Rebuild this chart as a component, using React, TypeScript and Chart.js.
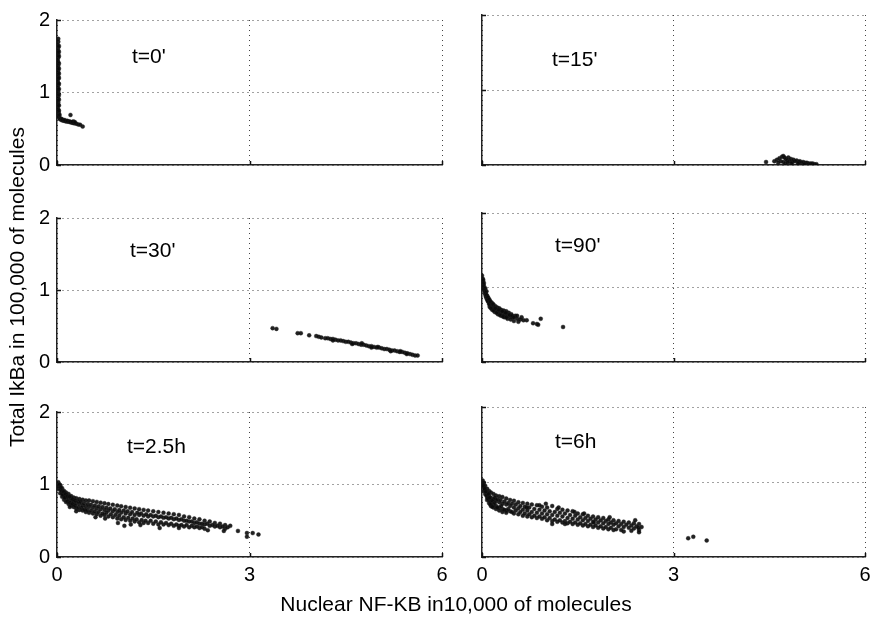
import React, { useEffect, useRef } from "react";
import { Chart, registerables } from "chart.js";

Chart.register(...registerables);

// ---------- text ----------
const panelLabels = ["t=0'", "t=15'", "t=30'", "t=90'", "t=2.5h", "t=6h"];
const xTickValues = [0, 3, 6];
const yTickValues = [0, 1, 2];
const xAxisTitle = "Nuclear NF-KB in10,000 of molecules";
const yAxisTitle = "Total IkBa in 100,000 of molecules";

// ---------- data: [nuclear NF-kB (x 10,000), total IkBa (x 100,000)] ----------
const t0Points: [number, number][] = [
  [0.02, 1.74], [0.02, 1.7], [0.01, 1.66], [0.02, 1.62], [0.02, 1.58], [0.01, 1.55], [0.02, 1.52],
  [0.02, 1.48], [0.01, 1.45], [0.02, 1.42], [0.03, 1.4], [0.02, 1.37], [0.01, 1.34], [0.02, 1.31],
  [0.02, 1.28], [0.01, 1.25], [0.02, 1.22], [0.02, 1.19], [0.01, 1.16], [0.02, 1.13], [0.02, 1.1],
  [0.01, 1.07], [0.02, 1.04], [0.02, 1.01], [0.01, 0.98], [0.02, 0.95], [0.02, 0.92], [0.01, 0.89],
  [0.02, 0.86], [0.02, 0.83], [0.01, 0.8], [0.02, 0.77], [0.02, 0.74], [0.03, 0.71], [0.02, 0.68],
  [0.03, 0.66], [0.04, 0.64], [0.05, 0.63], [0.07, 0.62], [0.09, 0.615], [0.11, 0.61], [0.13, 0.605],
  [0.15, 0.6], [0.17, 0.6], [0.19, 0.595], [0.21, 0.59], [0.23, 0.585], [0.25, 0.58], [0.27, 0.575],
  [0.3, 0.57], [0.33, 0.56], [0.21, 0.69], [0.4, 0.53], [0.26, 0.6], [0.36, 0.555],
  [0.03, 1.64], [0.03, 1.56], [0.03, 1.5], [0.03, 1.33], [0.03, 1.26], [0.03, 1.2], [0.03, 1.12],
  [0.03, 1.05], [0.03, 0.97], [0.03, 0.9], [0.03, 0.82], [0.03, 0.75], [0.04, 0.69], [0.06, 0.64],
  [0.08, 0.63], [0.12, 0.62], [0.16, 0.61], [0.2, 0.6], [0.24, 0.595], [0.28, 0.59],
];

const t15Points: [number, number][] = [
  [4.45, 0.04], [4.58, 0.05], [4.62, 0.07], [4.66, 0.09], [4.7, 0.11], [4.72, 0.12], [4.74, 0.1],
  [4.68, 0.05], [4.72, 0.04], [4.76, 0.08], [4.78, 0.06], [4.8, 0.1], [4.82, 0.05], [4.84, 0.08],
  [4.86, 0.04], [4.88, 0.07], [4.9, 0.05], [4.93, 0.06], [4.96, 0.04], [4.98, 0.05], [5.0, 0.03],
  [5.03, 0.04], [5.06, 0.03], [5.09, 0.03], [5.12, 0.02], [5.15, 0.02], [5.18, 0.02], [5.21, 0.01],
  [5.24, 0.01], [4.75, 0.02], [4.85, 0.02], [4.95, 0.02], [5.05, 0.01], [4.64, 0.03], [4.79, 0.03],
];

const t30Points: [number, number][] = [
  [3.36, 0.47], [3.42, 0.46], [3.75, 0.4], [3.8, 0.4], [3.93, 0.37], [4.04, 0.36], [4.08, 0.35],
  [4.12, 0.34], [4.18, 0.33], [4.22, 0.33], [4.26, 0.32], [4.3, 0.32], [4.34, 0.31], [4.38, 0.3],
  [4.42, 0.3], [4.46, 0.29], [4.5, 0.28], [4.54, 0.28], [4.58, 0.27], [4.62, 0.26], [4.66, 0.26],
  [4.7, 0.25], [4.74, 0.24], [4.78, 0.24], [4.82, 0.23], [4.86, 0.22], [4.9, 0.22], [4.94, 0.21],
  [4.98, 0.2], [5.02, 0.2], [5.06, 0.19], [5.1, 0.18], [5.14, 0.18], [5.18, 0.17], [5.22, 0.16],
  [5.26, 0.16], [5.3, 0.15], [5.34, 0.14], [5.38, 0.14], [5.42, 0.13], [5.46, 0.12], [5.5, 0.11],
  [5.54, 0.1], [5.58, 0.09], [5.62, 0.09], [4.3, 0.3], [4.6, 0.25], [4.9, 0.2], [5.2, 0.15],
  [5.45, 0.11], [5.0, 0.21], [4.75, 0.26], [5.35, 0.15],
];

const t90Points: [number, number][] = [
  [0.0, 1.16], [0.01, 1.12], [0.01, 1.08], [0.02, 1.04], [0.02, 1.0], [0.03, 0.97], [0.04, 0.94],
  [0.05, 0.91], [0.06, 0.88], [0.07, 0.86], [0.08, 0.84], [0.1, 0.81], [0.12, 0.78], [0.14, 0.76],
  [0.16, 0.74], [0.19, 0.72], [0.22, 0.7], [0.25, 0.68], [0.28, 0.67], [0.32, 0.65], [0.36, 0.64],
  [0.4, 0.63], [0.44, 0.61], [0.48, 0.6], [0.03, 1.02], [0.04, 0.98], [0.06, 0.93], [0.08, 0.89],
  [0.1, 0.86], [0.12, 0.83], [0.15, 0.8], [0.18, 0.77], [0.21, 0.75], [0.24, 0.73], [0.27, 0.72],
  [0.3, 0.7], [0.34, 0.69], [0.38, 0.68], [0.42, 0.66], [0.46, 0.64], [0.12, 0.74], [0.16, 0.7],
  [0.2, 0.67], [0.25, 0.64], [0.3, 0.62], [0.35, 0.6], [0.4, 0.58], [0.45, 0.57], [0.5, 0.55],
  [0.52, 0.62], [0.57, 0.54], [0.62, 0.6], [0.7, 0.56], [0.8, 0.52], [0.86, 0.51], [0.88, 0.5],
  [0.92, 0.58], [1.27, 0.47], [0.55, 0.58],
  [0.02, 1.1], [0.03, 1.06], [0.05, 0.99], [0.07, 0.95], [0.07, 0.9], [0.09, 0.87], [0.09, 0.82],
  [0.11, 0.84], [0.11, 0.78], [0.13, 0.81], [0.14, 0.72], [0.17, 0.78], [0.18, 0.69], [0.21, 0.72],
  [0.23, 0.66], [0.26, 0.7], [0.28, 0.63], [0.32, 0.68], [0.33, 0.61], [0.37, 0.66], [0.38, 0.6],
  [0.43, 0.63], [0.47, 0.62], [0.5, 0.6], [0.55, 0.62], [0.6, 0.57], [0.65, 0.56],
];

const t150Points: [number, number][] = [
  [0.02, 1.03], [0.02, 0.98], [0.02, 0.94], [0.05, 0.99], [0.05, 0.93], [0.05, 0.88],
  [0.08, 0.95], [0.08, 0.88], [0.08, 0.83], [0.11, 0.91], [0.11, 0.85], [0.11, 0.79],
  [0.14, 0.89], [0.14, 0.82], [0.14, 0.76], [0.18, 0.87], [0.18, 0.8], [0.18, 0.73],
  [0.22, 0.84], [0.22, 0.78], [0.22, 0.71], [0.26, 0.82], [0.26, 0.76], [0.26, 0.69],
  [0.3, 0.81], [0.3, 0.74], [0.3, 0.67], [0.35, 0.8], [0.35, 0.73], [0.35, 0.65],
  [0.4, 0.79], [0.4, 0.71], [0.4, 0.64], [0.45, 0.78], [0.45, 0.7], [0.45, 0.62],
  [0.5, 0.78], [0.5, 0.69], [0.5, 0.61], [0.56, 0.77], [0.56, 0.68], [0.56, 0.6],
  [0.62, 0.76], [0.62, 0.67], [0.62, 0.59], [0.68, 0.75], [0.68, 0.66], [0.68, 0.57],
  [0.74, 0.74], [0.74, 0.65], [0.74, 0.58], [0.8, 0.73], [0.8, 0.64], [0.8, 0.56],
  [0.87, 0.72], [0.87, 0.63], [0.87, 0.55], [0.94, 0.71], [0.94, 0.62], [0.94, 0.53],
  [1.0, 0.7], [1.0, 0.61], [1.0, 0.52], [1.07, 0.69], [1.07, 0.6], [1.07, 0.51],
  [1.14, 0.68], [1.14, 0.59], [1.14, 0.5], [1.21, 0.67], [1.21, 0.58], [1.21, 0.49],
  [1.28, 0.66], [1.28, 0.58], [1.28, 0.48], [1.35, 0.65], [1.35, 0.57], [1.35, 0.47],
  [1.42, 0.64], [1.42, 0.56], [1.42, 0.47], [1.5, 0.63], [1.5, 0.56], [1.5, 0.46],
  [1.58, 0.62], [1.58, 0.55], [1.58, 0.45], [1.66, 0.61], [1.66, 0.54], [1.66, 0.45],
  [1.74, 0.6], [1.74, 0.53], [1.74, 0.44], [1.82, 0.59], [1.82, 0.52], [1.82, 0.43],
  [1.9, 0.58], [1.9, 0.51], [1.9, 0.43], [1.98, 0.56], [1.98, 0.5], [1.98, 0.42],
  [2.06, 0.55], [2.06, 0.49], [2.06, 0.41], [2.14, 0.53], [2.14, 0.47], [2.14, 0.41],
  [2.22, 0.52], [2.22, 0.46], [2.22, 0.4], [2.3, 0.5], [2.3, 0.45], [2.3, 0.39],
  [2.38, 0.49], [2.38, 0.43], [2.46, 0.47], [2.46, 0.42], [2.54, 0.46], [2.54, 0.41],
  [2.62, 0.44], [2.62, 0.39], [2.7, 0.43], [2.82, 0.36], [2.96, 0.33], [3.14, 0.31],
  [2.96, 0.28], [3.05, 0.33], [1.05, 0.43], [1.6, 0.4], [1.15, 0.45], [0.95, 0.47],
  [0.04, 1.0], [0.06, 0.96], [0.07, 0.91], [0.09, 0.86], [0.1, 0.9], [0.12, 0.82], [0.13, 0.87],
  [0.16, 0.84], [0.16, 0.77], [0.2, 0.83], [0.2, 0.75], [0.24, 0.8], [0.24, 0.73], [0.28, 0.78],
  [0.28, 0.71], [0.33, 0.77], [0.33, 0.69], [0.37, 0.76], [0.38, 0.68], [0.42, 0.74], [0.43, 0.66],
  [0.48, 0.73], [0.47, 0.65], [0.53, 0.72], [0.53, 0.64], [0.59, 0.71], [0.59, 0.63], [0.65, 0.7],
  [0.65, 0.62], [0.71, 0.69], [0.71, 0.6], [0.77, 0.68], [0.77, 0.61], [0.83, 0.67], [0.84, 0.59],
  [0.9, 0.66], [0.91, 0.58], [0.97, 0.65], [0.97, 0.57], [1.04, 0.64], [1.04, 0.55], [1.1, 0.63],
  [1.11, 0.54], [1.17, 0.62], [1.18, 0.53], [1.25, 0.61], [1.24, 0.52], [1.31, 0.6], [1.32, 0.51],
  [1.39, 0.59], [1.38, 0.5], [1.46, 0.58], [1.46, 0.5], [1.54, 0.57], [1.54, 0.49], [1.62, 0.56],
  [1.62, 0.48], [1.7, 0.55], [1.7, 0.47], [1.78, 0.54], [1.78, 0.46], [1.86, 0.53], [1.86, 0.45],
  [1.94, 0.52], [1.94, 0.44], [2.02, 0.5], [2.02, 0.44], [2.1, 0.49], [2.1, 0.43], [2.18, 0.48],
  [2.18, 0.42], [2.26, 0.46], [2.26, 0.41], [2.34, 0.46], [2.42, 0.44], [2.5, 0.43], [2.58, 0.42],
  [2.66, 0.41], [0.6, 0.55], [0.75, 0.53], [1.3, 0.44], [1.9, 0.4], [2.35, 0.37], [2.6, 0.36],
  [0.3, 0.63], [0.2, 0.69],
];

const t360Points: [number, number][] = [
  [0.01, 1.02], [0.01, 0.97], [0.03, 0.99], [0.03, 0.93], [0.03, 0.88], [0.05, 0.95], [0.05, 0.89],
  [0.05, 0.84], [0.08, 0.91], [0.08, 0.85], [0.08, 0.8], [0.08, 0.76], [0.11, 0.88], [0.11, 0.82],
  [0.11, 0.76], [0.11, 0.72], [0.14, 0.86], [0.14, 0.79], [0.14, 0.73], [0.14, 0.68], [0.18, 0.84],
  [0.18, 0.77], [0.18, 0.7], [0.18, 0.66], [0.22, 0.82], [0.22, 0.75], [0.22, 0.68], [0.22, 0.64],
  [0.27, 0.81], [0.27, 0.73], [0.27, 0.66], [0.27, 0.62], [0.32, 0.8], [0.32, 0.71], [0.32, 0.64],
  [0.32, 0.6], [0.38, 0.78], [0.38, 0.7], [0.38, 0.62], [0.38, 0.59], [0.44, 0.76], [0.44, 0.68],
  [0.44, 0.61], [0.5, 0.75], [0.5, 0.66], [0.5, 0.58], [0.57, 0.73], [0.57, 0.65], [0.57, 0.57],
  [0.64, 0.72], [0.64, 0.63], [0.64, 0.55], [0.71, 0.71], [0.71, 0.62], [0.71, 0.54], [0.78, 0.7],
  [0.78, 0.6], [0.78, 0.53], [0.86, 0.69], [0.86, 0.59], [0.86, 0.52], [0.94, 0.67], [0.94, 0.58],
  [0.94, 0.51], [1.02, 0.66], [1.02, 0.57], [1.02, 0.49], [1.1, 0.68], [1.1, 0.56], [1.1, 0.48],
  [1.18, 0.64], [1.18, 0.55], [1.18, 0.47], [1.26, 0.63], [1.26, 0.54], [1.26, 0.46], [1.34, 0.62],
  [1.34, 0.52], [1.34, 0.45], [1.42, 0.61], [1.42, 0.51], [1.42, 0.44], [1.5, 0.58], [1.5, 0.5],
  [1.5, 0.43], [1.58, 0.57], [1.58, 0.49], [1.58, 0.42], [1.66, 0.55], [1.66, 0.48], [1.66, 0.41],
  [1.74, 0.54], [1.74, 0.47], [1.74, 0.4], [1.82, 0.53], [1.82, 0.46], [1.82, 0.39], [1.9, 0.52],
  [1.9, 0.45], [1.9, 0.38], [1.98, 0.5], [1.98, 0.44], [1.98, 0.37], [2.06, 0.49], [2.06, 0.43],
  [2.06, 0.36], [2.14, 0.48], [2.14, 0.41], [2.22, 0.47], [2.22, 0.4], [2.22, 0.34], [2.3, 0.46],
  [2.3, 0.39], [2.38, 0.45], [2.38, 0.38], [2.46, 0.44], [2.46, 0.36], [2.46, 0.33], [2.5, 0.4],
  [1.0, 0.71], [1.1, 0.44], [3.23, 0.25], [3.31, 0.27], [3.52, 0.22],
  [0.02, 0.95], [0.04, 0.91], [0.06, 0.87], [0.07, 0.82], [0.09, 0.78], [0.1, 0.84], [0.12, 0.79],
  [0.13, 0.7], [0.16, 0.75], [0.16, 0.67], [0.2, 0.79], [0.2, 0.72], [0.24, 0.77], [0.24, 0.66],
  [0.29, 0.76], [0.3, 0.68], [0.35, 0.74], [0.35, 0.63], [0.41, 0.72], [0.41, 0.64], [0.47, 0.71],
  [0.47, 0.6], [0.53, 0.7], [0.53, 0.62], [0.6, 0.68], [0.6, 0.6], [0.67, 0.67], [0.67, 0.58],
  [0.74, 0.66], [0.74, 0.57], [0.82, 0.64], [0.82, 0.55], [0.9, 0.63], [0.9, 0.54], [0.98, 0.62],
  [0.98, 0.53], [1.06, 0.61], [1.06, 0.52], [1.14, 0.6], [1.14, 0.5], [1.22, 0.59], [1.22, 0.49],
  [1.3, 0.58], [1.3, 0.48], [1.38, 0.56], [1.38, 0.47], [1.46, 0.55], [1.46, 0.46], [1.54, 0.53],
  [1.54, 0.45], [1.62, 0.52], [1.62, 0.44], [1.7, 0.51], [1.7, 0.43], [1.78, 0.5], [1.78, 0.42],
  [1.86, 0.49], [1.86, 0.41], [1.94, 0.48], [1.94, 0.4], [2.02, 0.46], [2.02, 0.39], [2.1, 0.45],
  [2.1, 0.37], [2.18, 0.44], [2.18, 0.36], [2.26, 0.43], [2.34, 0.42], [2.34, 0.35], [2.42, 0.41],
  [0.7, 0.66], [0.9, 0.69], [1.2, 0.66], [1.45, 0.6], [1.6, 0.58], [1.75, 0.46], [2.0, 0.53],
  [1.3, 0.44], [2.4, 0.49], [2.45, 0.39],
];

const panelSeries = [t0Points, t15Points, t30Points, t90Points, t150Points, t360Points];

// ---------- layout (page pixels) ----------
const colLeft = [57, 482];
const colRight = [442, 865];
const rowTop = [15, 213, 407];
const rowBottom = [165, 362, 557];
const labelOffsets: [number, number][] = [[75, 37], [70, 45], [73, 33], [73, 33], [70, 35], [73, 35]];

const FONT = '"Liberation Sans", Arial, Helvetica, sans-serif';
const PAD_L = 44;
const PAD_T = 14;
const PAD_R = 16;
const PAD_B = 40;

const panelPlugin = {
  id: "panelDecor",
  afterDraw(chart: any, _args: any, opts: any) {
    const { ctx, chartArea } = chart;
    const xs = chart.scales.x;
    const ys = chart.scales.y;
    ctx.save();
    ctx.strokeStyle = "#111";
    ctx.lineWidth = 1.5;
    ctx.setLineDash([]);
    ctx.beginPath();
    xTickValues.forEach((v) => {
      const px = Math.round(xs.getPixelForValue(v)) + 0.5;
      ctx.moveTo(px, chartArea.bottom);
      ctx.lineTo(px, chartArea.bottom - 4);
    });
    yTickValues.forEach((v) => {
      const py = Math.round(ys.getPixelForValue(v)) + 0.5;
      ctx.moveTo(chartArea.left, py);
      ctx.lineTo(chartArea.left + 4, py);
    });
    ctx.stroke();
    ctx.fillStyle = "#000";
    ctx.font = `21px ${FONT}`;
    ctx.textAlign = "left";
    ctx.textBaseline = "middle";
    ctx.fillText(opts.text, chartArea.left + opts.dx, chartArea.top + opts.dy);
    ctx.restore();
  },
};

function Panel({ index }: { index: number }) {
  const ref = useRef<HTMLCanvasElement>(null);
  const row = Math.floor(index / 2);
  const col = index % 2;
  const plotW = colRight[col] - colLeft[col];
  const plotH = rowBottom[row] - rowTop[row];
  const W = plotW + PAD_L + PAD_R;
  const H = plotH + PAD_T + PAD_B;

  useEffect(() => {
    const pts = panelSeries[index];
    const chart = new Chart(ref.current as HTMLCanvasElement, {
      type: "scatter",
      data: {
        datasets: [
          {
            data: pts.map(([x, y]) => ({ x, y })),
            pointRadius: 2,
            pointHoverRadius: 2,
            pointBackgroundColor: "rgba(10,10,10,0.9)",
            pointBorderColor: "#222",
            pointBorderWidth: 0.4,
          },
        ],
      },
      options: {
        animation: false,
        responsive: false,
        devicePixelRatio: 1,
        events: [],
        layout: { padding: { top: PAD_T, right: PAD_R, left: 0, bottom: 0 } },
        plugins: {
          legend: { display: false },
          tooltip: { enabled: false },
          panelDecor: { text: panelLabels[index], dx: labelOffsets[index][0], dy: labelOffsets[index][1] },
        } as any,
        scales: {
          x: {
            type: "linear",
            min: 0,
            max: 6,
            afterBuildTicks: (s: any) => {
              s.ticks = xTickValues.map((v) => ({ value: v }));
            },
            afterFit: (s: any) => {
              s.height = PAD_B;
            },
            ticks: {
              display: row === 2,
              padding: 6,
              color: "#000",
              font: { family: FONT, size: 20 },
              maxRotation: 0,
              autoSkip: false,
            },
            grid: { color: "#444", lineWidth: 1, drawTicks: false },
            border: { color: "#222", width: 1.5, dash: [1, 4] },
          },
          y: {
            type: "linear",
            min: 0,
            max: 2,
            afterBuildTicks: (s: any) => {
              s.ticks = yTickValues.map((v) => ({ value: v }));
            },
            afterFit: (s: any) => {
              s.width = PAD_L;
            },
            ticks: {
              display: col === 0,
              padding: 7,
              color: "#000",
              font: { family: FONT, size: 20 },
              autoSkip: false,
            },
            grid: { color: "#444", lineWidth: 1, drawTicks: false },
            border: { color: "#222", width: 1.5, dash: [1, 4] },
          },
        },
      },
      plugins: [panelPlugin],
    });
    return () => chart.destroy();
  }, [index]);

  return (
    <canvas
      ref={ref}
      width={W}
      height={H}
      style={{
        position: "absolute",
        left: colLeft[col] - PAD_L,
        top: rowTop[row] - PAD_T,
        width: W,
        height: H,
      }}
    />
  );
}

export default function App() {
  return (
    <div
      style={{
        position: "fixed",
        left: 0,
        top: 0,
        width: 870,
        height: 618,
        background: "#fff",
        overflow: "hidden",
        fontFamily: FONT,
      }}
    >
      {panelSeries.map((_, i) => (
        <Panel key={i} index={i} />
      ))}
      <div
        style={{
          position: "absolute",
          left: 456 - 300,
          top: 592,
          width: 600,
          height: 24,
          lineHeight: "24px",
          fontSize: 21,
          textAlign: "center",
          color: "#000",
          whiteSpace: "nowrap",
        }}
      >
        {xAxisTitle}
      </div>
      <div
        style={{
          position: "absolute",
          left: 17 - 250,
          top: 287 - 12,
          width: 500,
          height: 24,
          lineHeight: "24px",
          fontSize: 21,
          textAlign: "center",
          color: "#000",
          whiteSpace: "nowrap",
          transform: "rotate(-90deg)",
          transformOrigin: "50% 50%",
        }}
      >
        {yAxisTitle}
      </div>
    </div>
  );
}
